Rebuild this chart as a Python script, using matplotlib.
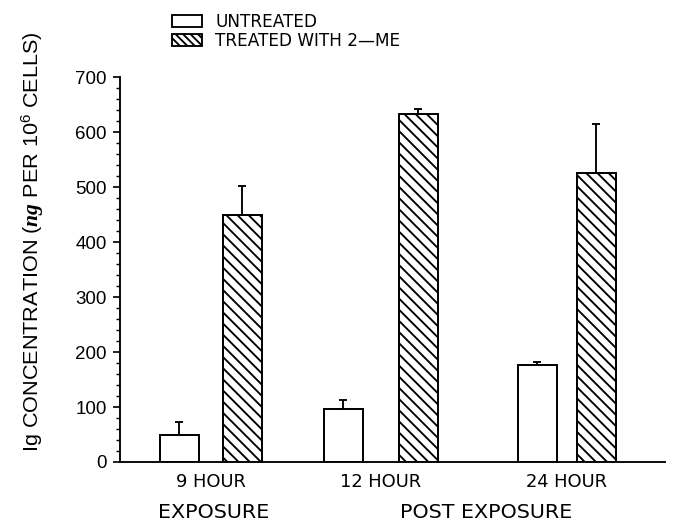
import matplotlib
matplotlib.use('Agg')
import matplotlib.pyplot as plt
from matplotlib.patches import Patch
from matplotlib.ticker import MultipleLocator
from matplotlib import transforms

# Ig concentration per 10^6 cells, mean and upper error
groups = ['9 HOUR', '12 HOUR', '24 HOUR']
untreated = [50, 96, 176]
untreated_err = [22, 17, 6]
treated = [449, 634, 525]
treated_err = [53, 8, 90]
series_names = ['UNTREATED', 'TREATED WITH 2\u2014ME']

# layout (x axis runs 0..5.45)
group_pos = [0.905, 2.605, 4.465]
half_gap = [0.315, 0.375, 0.295]
bar_w = 0.39

plt.rcParams['font.family'] = 'Liberation Sans'
plt.rcParams['hatch.linewidth'] = 2.0
plt.rcParams['mathtext.fontset'] = 'custom'
plt.rcParams['mathtext.rm'] = 'Liberation Sans'
plt.rcParams['mathtext.it'] = 'Liberation Serif:italic:bold'

fig = plt.figure(figsize=(10, 523 / 67.5), dpi=67.5)
ax = fig.add_axes([120 / 675, 1 - 462 / 523, 545 / 675, (462 - 77.3) / 523])

ux = [p - g for p, g in zip(group_pos, half_gap)]
tx = [p + g for p, g in zip(group_pos, half_gap)]

ax.bar(ux, untreated, width=bar_w, color='white', edgecolor='black', linewidth=2.1, zorder=2)
ax.bar(tx, treated, width=bar_w, color='white', edgecolor='black', linewidth=2.1,
       hatch='\\\\', zorder=2)
ax.errorbar(ux, untreated, yerr=[[0] * 3, untreated_err], fmt='none', ecolor='black',
            elinewidth=2.0, capsize=4, capthick=2.0, zorder=1)
ax.errorbar(tx, treated, yerr=[[0] * 3, treated_err], fmt='none', ecolor='black',
            elinewidth=2.0, capsize=4, capthick=2.0, zorder=1)

ax.set_xlim(0, 5.45)
ax.set_ylim(0, 700)
ax.yaxis.set_major_locator(MultipleLocator(100))
ax.yaxis.set_minor_locator(MultipleLocator(20))
ax.spines['top'].set_visible(False)
ax.spines['right'].set_visible(False)
ax.spines['left'].set_linewidth(2.0)
ax.spines['bottom'].set_linewidth(2.0)
ax.tick_params(axis='y', which='major', length=7, width=1.8, pad=7, labelsize=20)
ax.tick_params(axis='y', which='minor', length=4, width=1.5)

ax.set_xticks(group_pos)
ax.set_xticklabels(groups, family='DejaVu Sans', fontsize=19)
ax.tick_params(axis='x', length=0, pad=12)

ax.set_ylabel(r'Ig CONCENTRATION ($\it{ng}$ PER 10$^6$ CELLS)', fontsize=23)
ax.yaxis.set_label_coords(-0.136, 0.572)

trans = transforms.blended_transform_factory(ax.transData, fig.transFigure)
ax.text(0.94, 1 - 513 / 523, 'EXPOSURE', transform=trans, ha='center', va='center',
        family='DejaVu Sans', fontsize=22)
ax.text(3.66, 1 - 513 / 523, 'POST EXPOSURE', transform=trans, ha='center', va='center',
        family='DejaVu Sans', fontsize=22)

handles = [Patch(facecolor='white', edgecolor='black', linewidth=2.0),
           Patch(facecolor='white', edgecolor='black', linewidth=2.0, hatch='\\\\\\')]
fig.legend(handles, series_names, loc='upper left', bbox_to_anchor=(172 / 675, 1 - 13 / 523),
           frameon=False, prop={'family': 'DejaVu Sans', 'size': 18}, handlelength=1.75,
           handleheight=0.65, handletextpad=0.8, labelspacing=0.05, borderpad=0,
           borderaxespad=0)

fig.savefig('out.png', dpi=67.5)
